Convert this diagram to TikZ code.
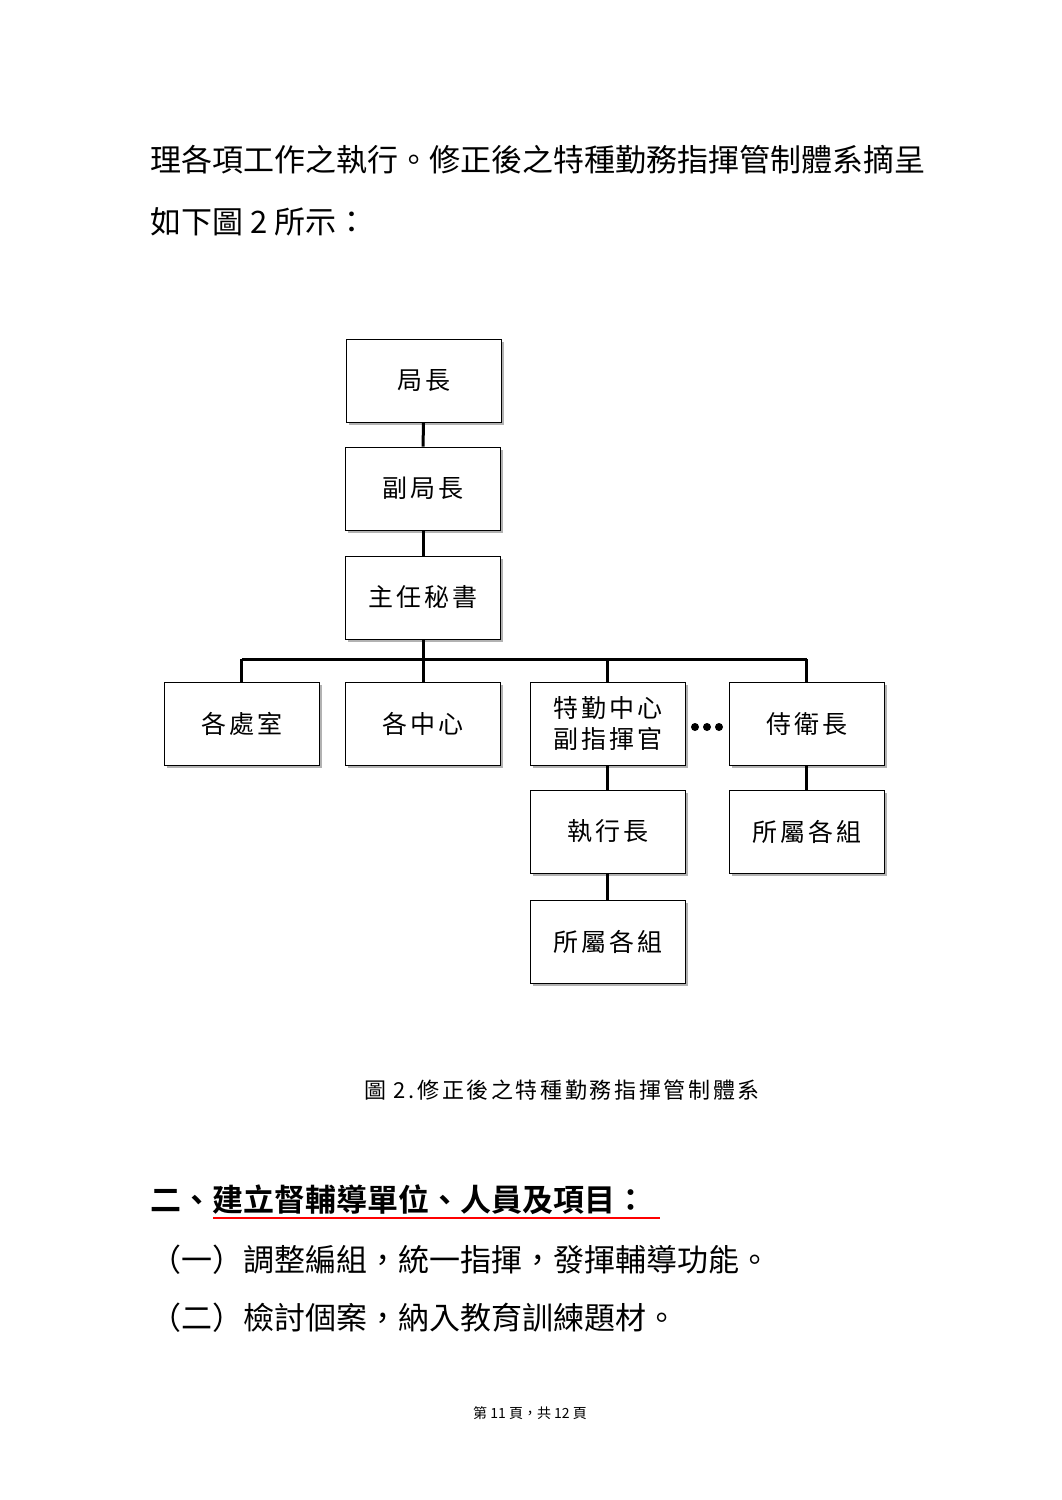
\documentclass[tikz,border=0pt]{standalone}
\usepackage{fontspec}
\setmainfont{Noto Sans CJK TC}[BoldFont={Noto Sans CJK TC Bold}]
\begin{document}
\begin{tikzpicture}[x=1pt,y=-1pt,
  box/.style={draw,line width=1pt,minimum width=155pt,minimum height=83pt,inner sep=0pt,font=\fontsize{25}{31}\selectfont\addfontfeature{LetterSpace=12},align=center},
  link/.style={line width=3pt},
  body/.style={anchor=west,inner sep=0pt,font=\fontsize{31}{36}\selectfont}]
\useasboundingbox (0,0) rectangle (1061,1500);
\node[body] (t1) at (150,160) {理各項工作之執行。修正後之特種勤務指揮管制體系摘呈};
\node[body] (t2) at (150,222) {如下圖 2 所示：};
\foreach \n/\x/\y/\t in {a/423.5/380.5/局長, b/423/488.5/副局長, c/423/597.5/主任秘書,
  d/241.5/723.5/各處室, e/423/723.5/各中心, f/607.5/723.5/{特勤中心\\副指揮官}, g/806.5/723.5/侍衛長,
  h/607.5/831.5/執行長, i/806.5/831.5/所屬各組, j/607.5/941.5/所屬各組}{
  \fill[gray!60] (\x+2.5-77.5,\y+2.5-41.5) rectangle (\x+2.5+77.5,\y+2.5+41.5);
  \node[box,fill=white] (\n) at (\x,\y) {\t};
}
\coordinate (bar) at (423,659);
\draw[link] (a) -- (b);
\draw[link] (b) -- (c);
\draw[link] (c) -- (bar);
\draw[link] (d.north |- bar) -- (g.north |- bar);
\foreach \n in {d,e,f,g}{\draw[link] (\n.north |- bar) -- (\n.north);}
\draw[link] (f) -- (h);
\draw[link] (h) -- (j);
\draw[link] (g) -- (i);
\foreach \dx in {-12,0,12}{\fill (707+\dx,727) circle (4pt);}
\node[font=\fontsize{22}{25}\selectfont\addfontfeature{LetterSpace=12}] (cap) at (562,1090) {圖 2.修正後之特種勤務指揮管制體系};
\node[body,font=\fontsize{31}{36}\selectfont\bfseries] (h2) at (150,1200) {二、建立督輔導單位、人員及項目：};
\draw[red,line width=1.2pt] (213,1218) -- (660,1218);
\node[body] (l1) at (150,1260) {（一）調整編組，統一指揮，發揮輔導功能。};
\node[body] (l2) at (150,1318) {（二）檢討個案，納入教育訓練題材。};
\node[font=\fontsize{14}{16}\selectfont] (ft) at (530,1413) {第 11 頁，共 12 頁};
\end{tikzpicture}
\end{document}
